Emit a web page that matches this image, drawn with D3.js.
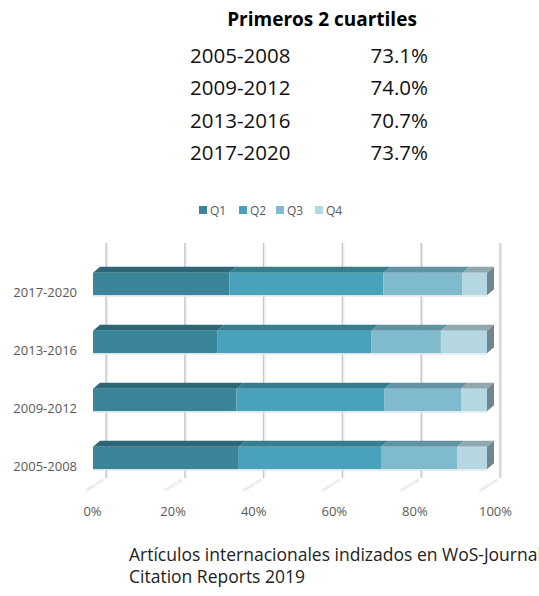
<!DOCTYPE html>
<html>
<head>
<meta charset="utf-8">
<script src="https://d3js.org/d3.v7.min.js"></script>
<style>
  body { margin: 0; background: #fff; }
  text { font-family: "Open Sans", sans-serif; }
</style>
</head>
<body>
<svg id="chart" width="539" height="596"></svg>
<script>
// data
const periods = ["2005-2008", "2009-2012", "2013-2016", "2017-2020"];
const quartiles = ["Q1", "Q2", "Q3", "Q4"];
const q1 = [37.0, 36.4, 31.5, 34.6];
const q2 = [36.1, 37.6, 39.2, 39.1];
const q3 = [19.3, 19.4, 17.6, 20.1];
const q4 = [7.6, 6.6, 11.7, 6.2];
const topTwo = ["73.1%", "74.0%", "70.7%", "73.7%"];
const ticks = [0, 0.2, 0.4, 0.6, 0.8, 1];

const colors = ["#3a8599", "#48a2ba", "#7fbacd", "#b5d7e1"];
const topColors = ["#2d6676", "#367d8f", "#5f93a3", "#8fa8b0"];

const svg = d3.select("#chart");

// header table
svg.append("text")
  .attr("x", 322).attr("y", 26)
  .attr("text-anchor", "middle")
  .style("font-size", "19px").style("font-weight", "bold")
  .text("Primeros 2 cuartiles");

const rows = svg.append("g").selectAll("g")
  .data(periods)
  .enter().append("g");
rows.append("text")
  .attr("x", 190).attr("y", (d, i) => 63 + i * 32.3)
  .style("font-size", "20.5px").style("fill", "#111")
  .text(d => d);
rows.append("text")
  .attr("x", 428).attr("y", (d, i) => 63 + i * 32.3)
  .attr("text-anchor", "end")
  .style("font-size", "20.5px").style("fill", "#111")
  .text((d, i) => topTwo[i]);

// legend
const legX = [199, 239, 276, 315];
const leg = svg.append("g").selectAll("g")
  .data(quartiles).enter().append("g")
  .attr("transform", (d, i) => "translate(" + legX[i] + ",206)");
leg.append("rect").attr("width", 8).attr("height", 8)
  .attr("fill", (d, i) => colors[i]);
leg.append("text").attr("x", 11).attr("y", 8.5)
  .style("font-size", "12px").style("fill", "#595959")
  .text(d => d);

// scales
const x = d3.scaleLinear().domain([0, 100]).range([93, 487]);
const xLab = d3.scaleLinear().domain([0, 1]).range([92, 495]);
const y = d3.scalePoint().domain(periods.slice().reverse()).range([284, 458]);
const barH = 22.6, dx = 7, dy = 6, back = 13;

// gridlines (back wall)
const grid = svg.append("g");
ticks.forEach(t => {
  const gx = x(t * 100) + back;
  grid.append("line").attr("x1", gx).attr("x2", gx).attr("y1", 243).attr("y2", 478)
    .attr("stroke", "#c9c9c9").attr("stroke-width", 1.5);
  grid.append("line").attr("x1", gx + 1.5).attr("x2", gx + 1.5).attr("y1", 243).attr("y2", 478)
    .attr("stroke", "#ececec").attr("stroke-width", 1.2);
  // tiny floor labels
  grid.append("text")
    .attr("transform", "translate(" + (gx - 2) + ",481) rotate(-32)")
    .attr("text-anchor", "end")
    .style("font-size", "4px").style("fill", "#c4c4c4")
    .text("1900/01/00");
});

// bars
const series = [q1, q2, q3, q4];
const bars = svg.append("g");
periods.forEach((p, i) => {
  let acc = 0;
  const y0 = y(p) - barH / 2;
  series.forEach((s, k) => {
    const a = x(acc), b = x(acc + s[i]);
    acc += s[i];
    bars.append("path")
      .attr("d", "M" + a + "," + y0 + "L" + (a + dx) + "," + (y0 - dy) + "L" + (b + dx) + "," + (y0 - dy) + "L" + b + "," + y0 + "Z")
      .attr("fill", topColors[k]);
    bars.append("rect")
      .attr("x", a).attr("y", y0).attr("width", b - a).attr("height", barH)
      .attr("fill", colors[k]);
    if (k === 3) {
      bars.append("path")
        .attr("d", "M" + b + "," + y0 + "L" + (b + dx) + "," + (y0 - dy) + "L" + (b + dx) + "," + (y0 + barH - dy) + "L" + b + "," + (y0 + barH) + "Z")
        .attr("fill", "#71858e");
    }
  });
  bars.append("line")
    .attr("x1", x(0)).attr("x2", x(100)).attr("y1", y0 + barH + 0.7).attr("y2", y0 + barH + 0.7)
    .attr("stroke", "#dfe9ec").attr("stroke-width", 1.4);
});

// category labels
svg.append("g").selectAll("text")
  .data(periods).enter().append("text")
  .attr("x", 77).attr("y", d => y(d) + 13)
  .attr("text-anchor", "end")
  .style("font-size", "13px").style("fill", "#595959")
  .text(d => d);

// x axis labels
const axis = svg.append("g")
  .attr("transform", "translate(0,504)")
  .call(d3.axisBottom(xLab).tickValues(ticks).tickFormat(d3.format(".0%")).tickSize(0));
axis.select(".domain").remove();
axis.selectAll("text")
  .style("font-family", "'Open Sans', sans-serif")
  .style("font-size", "13px").style("fill", "#595959");

// caption
svg.append("text").attr("x", 129).attr("y", 561)
  .style("font-size", "17.5px").style("fill", "#222")
  .text("Artículos internacionales indizados en WoS-Journal");
svg.append("text").attr("x", 129).attr("y", 583)
  .style("font-size", "17.5px").style("fill", "#222")
  .text("Citation Reports 2019");
</script>
</body>
</html>
